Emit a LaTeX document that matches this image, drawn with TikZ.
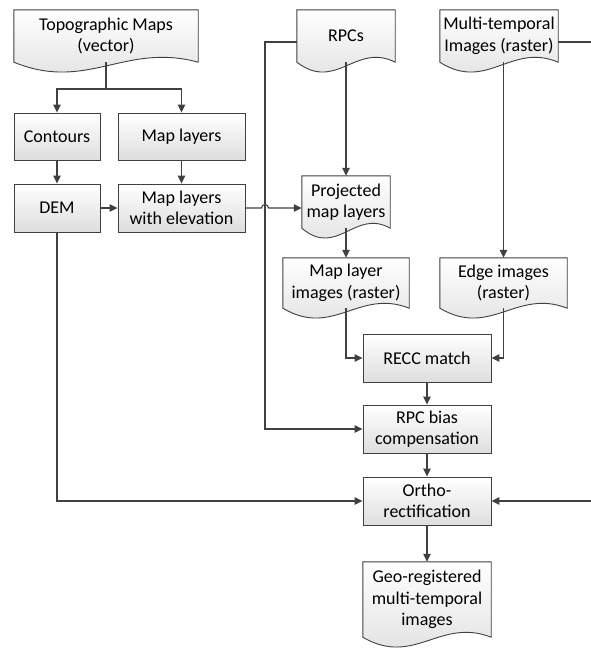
\documentclass[tikz,border=0pt]{standalone}
\usepackage{fontspec}
\setmainfont{Carlito}
\usetikzlibrary{arrows.meta,calc,backgrounds}
\definecolor{lc}{HTML}{404040}
\tikzset{
  base/.style={font=\fontsize{18}{21.5}\selectfont, align=center, inner sep=1pt, text=black},
  box/.style={base, rectangle, draw=lc, line width=0.9pt, top color=white, bottom color=black!13},
  doc/.style={base, rectangle},
  docfill/.style={draw=lc, line width=0.9pt, top color=white, bottom color=black!13},
  arr/.style={draw=lc, line width=1.1pt, -{Triangle[length=8pt,width=7.5pt]}},
  ln/.style={draw=lc, line width=1.1pt}
}
\newcommand\docpath[1]{%
  \path[docfill] (#1.north west) -- (#1.south west)
    .. controls ($(#1.south west)!0.4!(#1.south east)+(0,30)$) and ($(#1.south west)!0.6!(#1.south east)+(0,-20)$) .. (#1.south east)
    -- (#1.north east) -- cycle;}
\begin{document}
\begin{tikzpicture}[x=1pt,y=-1pt]
\useasboundingbox (0,0) rectangle (590,648);
% documents
\node[doc, minimum width=184pt, minimum height=52pt] (topo) at (106,36) {Topographic Maps\\(vector)};
\node[doc, minimum width=98pt, minimum height=52pt] (rpcs) at (346,36) {RPCs};
\node[doc, minimum width=118pt, minimum height=52pt] (multi) at (499,36) {Multi-temporal\\Images (raster)};
\node[doc, minimum width=88pt, minimum height=52pt] (proj) at (346,202) {Projected\\map layers};
\node[doc, minimum width=126pt, minimum height=50pt] (mlimg) at (346,283) {Map layer\\images (raster)};
\node[doc, minimum width=127pt, minimum height=50pt] (edge) at (503.5,283) {Edge images\\(raster)};
\node[doc, minimum width=128pt, minimum height=75pt] (geo) at (427,599.5) {Geo-registered\\multi-temporal\\images};
% boxes
\node[box, minimum width=86pt, minimum height=47pt] (cont) at (57,136.5) {Contours};
\node[box, minimum width=127pt, minimum height=47pt] (mapl) at (181.5,136.5) {Map layers};
\node[box, minimum width=86pt, minimum height=48pt] (dem) at (57,208) {DEM};
\node[box, minimum width=127pt, minimum height=48pt] (mle) at (181.5,208) {Map layers\\with elevation};
\node[box, minimum width=128pt, minimum height=48pt] (recc) at (427,358) {RECC match};
\node[box, minimum width=128pt, minimum height=48pt] (bias) at (427,429) {RPC bias\\compensation};
\node[box, minimum width=128pt, minimum height=48pt] (ortho) at (427,501) {Ortho-\\rectification};
\begin{scope}[on background layer]
  \docpath{topo}\docpath{rpcs}\docpath{multi}\docpath{proj}\docpath{mlimg}\docpath{edge}\docpath{geo}
\end{scope}
% helper coordinates
\coordinate (split) at (106,89);
\coordinate (busl) at (265,0);
\coordinate (busr) at (593,0);
\coordinate (rpcsw) at ([yshift=-6pt]rpcs.west);
\coordinate (multie) at ([yshift=-6pt]multi.east);
% connectors
\draw[ln] (topo.south) -- (split);
\draw[arr] (split) -| (cont.north);
\draw[arr] (split) -| (mapl.north);
\draw[arr] (cont) -- (dem);
\draw[arr] (mapl) -- (mle);
\draw[arr] (dem) -- (mle);
\draw[arr] (rpcsw) -- (rpcsw -| busl) |- (bias.west);
\draw[arr] (mle.east) -- ([xshift=-3.5pt]mle.east -| busl) arc[start angle=180, end angle=360, radius=3.5] -- (proj.west |- mle.east);
\draw[arr] (rpcs.south) -- (proj.north);
\draw[arr] (proj.south) -- (mlimg.north);
\draw[arr] (edge.north |- multi.south) -- (edge.north);
\draw[arr] (mlimg.south) |- (recc.west);
\draw[arr] (edge.south) |- (recc.east);
\draw[arr] (recc) -- (bias);
\draw[arr] (bias) -- (ortho);
\draw[arr] (dem.south) |- (ortho.west);
\draw[arr] (multie) -- (multie -| busr) |- (ortho.east);
\draw[arr] (ortho) -- (geo.north);
\end{tikzpicture}
\end{document}
